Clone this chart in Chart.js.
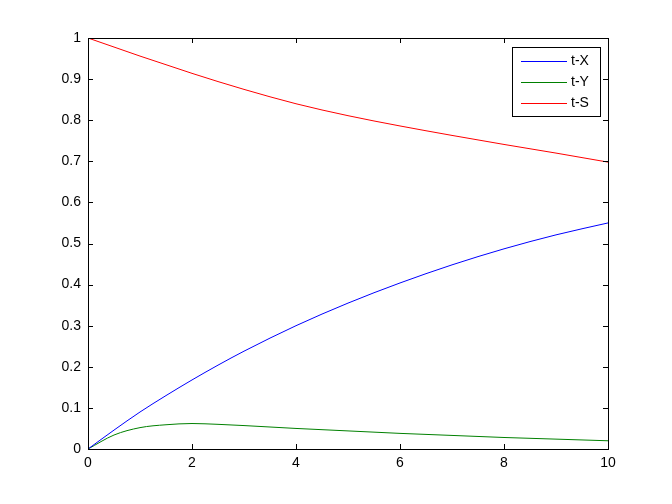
<!DOCTYPE html>
<html>
<head>
<meta charset="utf-8">
<script src="https://cdn.jsdelivr.net/npm/chart.js@4/dist/chart.umd.min.js"></script>
<style>
  html, body { margin: 0; padding: 0; background: #fff; }
  canvas { display: block; }
</style>
</head>
<body>
<canvas id="myChart" width="672" height="504"></canvas>
<script>
// sample times and the three curves
var t = [0, 0.5, 1, 1.5, 2, 2.5, 3, 4, 5, 6, 7, 8, 9, 10];
var X = [0, 0.046, 0.09, 0.13, 0.168, 0.204, 0.238, 0.300, 0.355, 0.404, 0.448, 0.487, 0.521, 0.55];
var Y = [0, 0.034, 0.052, 0.059, 0.062, 0.06, 0.057, 0.05, 0.044, 0.038, 0.033, 0.028, 0.024, 0.02];
var S = [1, 0.978, 0.956, 0.935, 0.914, 0.894, 0.875, 0.840, 0.811, 0.786, 0.763, 0.741, 0.720, 0.698];
var seriesNames = ['t-X', 't-Y', 't-S'];
var seriesColors = ['#0000ff', '#008000', '#ff0000'];

var FONT = '"Liberation Sans", Arial, Helvetica, sans-serif';

function pts(vals) {
  return t.map(function (v, i) { return { x: v, y: vals[i] }; });
}

// MATLAB-ish box with inward ticks and an inset legend
var matlabAxes = {
  id: 'matlabAxes',
  afterDraw: function (chart) {
    var c = chart.ctx;
    var a = chart.chartArea;
    var xs = chart.scales.x;
    var ys = chart.scales.y;
    var L = 5;
    c.save();
    c.strokeStyle = '#000';
    c.lineWidth = 1;
    c.strokeRect(Math.round(a.left) + 0.5, Math.round(a.top) + 0.5,
                 Math.round(a.right - a.left), Math.round(a.bottom - a.top));
    c.beginPath();
    xs.ticks.forEach(function (tk) {
      var px = Math.round(xs.getPixelForValue(tk.value)) + 0.5;
      c.moveTo(px, a.bottom); c.lineTo(px, a.bottom - L);
      c.moveTo(px, a.top); c.lineTo(px, a.top + L);
    });
    ys.ticks.forEach(function (tk) {
      var py = Math.round(ys.getPixelForValue(tk.value)) + 0.5;
      c.moveTo(a.left, py); c.lineTo(a.left + L, py);
      c.moveTo(a.right, py); c.lineTo(a.right - L, py);
    });
    c.stroke();

    // legend
    var bx = 512, by = 47, bw = 88, bh = 69;
    c.fillStyle = '#fff';
    c.fillRect(bx, by, bw, bh);
    c.strokeRect(bx + 0.5, by + 0.5, bw, bh);
    c.font = '14px ' + FONT;
    c.textBaseline = 'middle';
    c.textAlign = 'left';
    seriesNames.forEach(function (name, i) {
      var yy = by + 14 + i * 21;
      c.beginPath();
      c.strokeStyle = seriesColors[i];
      c.moveTo(bx + 9, yy + 0.5);
      c.lineTo(bx + 55, yy + 0.5);
      c.stroke();
      c.fillStyle = '#000';
      c.fillText(name, bx + 59, yy);
    });
    c.restore();
  }
};

var ctx = document.getElementById('myChart').getContext('2d');
var myChart = new Chart(ctx, {
  type: 'line',
  data: {
    datasets: [
      { label: seriesNames[0], data: pts(X), borderColor: seriesColors[0] },
      { label: seriesNames[1], data: pts(Y), borderColor: seriesColors[1] },
      { label: seriesNames[2], data: pts(S), borderColor: seriesColors[2] }
    ]
  },
  options: {
    responsive: false,
    animation: false,
    layout: { padding: { left: 0, top: 38, right: 64, bottom: 0 } },
    elements: {
      point: { radius: 0 },
      line: { borderWidth: 1, cubicInterpolationMode: 'monotone', fill: false }
    },
    plugins: { legend: { display: false }, tooltip: { enabled: false } },
    scales: {
      x: {
        type: 'linear',
        min: 0,
        max: 10,
        grid: { display: false, drawTicks: false },
        border: { display: false },
        ticks: { stepSize: 2, padding: 6, color: '#000', font: { family: FONT, size: 14 } },
        afterFit: function (s) { s.height = 55; }
      },
      y: {
        min: 0,
        max: 1,
        grid: { display: false, drawTicks: false },
        border: { display: false },
        ticks: {
          stepSize: 0.1,
          padding: 7,
          color: '#000',
          font: { family: FONT, size: 14 },
          callback: function (v) { return String(+v.toFixed(1)); }
        },
        afterFit: function (s) { s.width = 88; }
      }
    }
  },
  plugins: [matlabAxes]
});
</script>
</body>
</html>
